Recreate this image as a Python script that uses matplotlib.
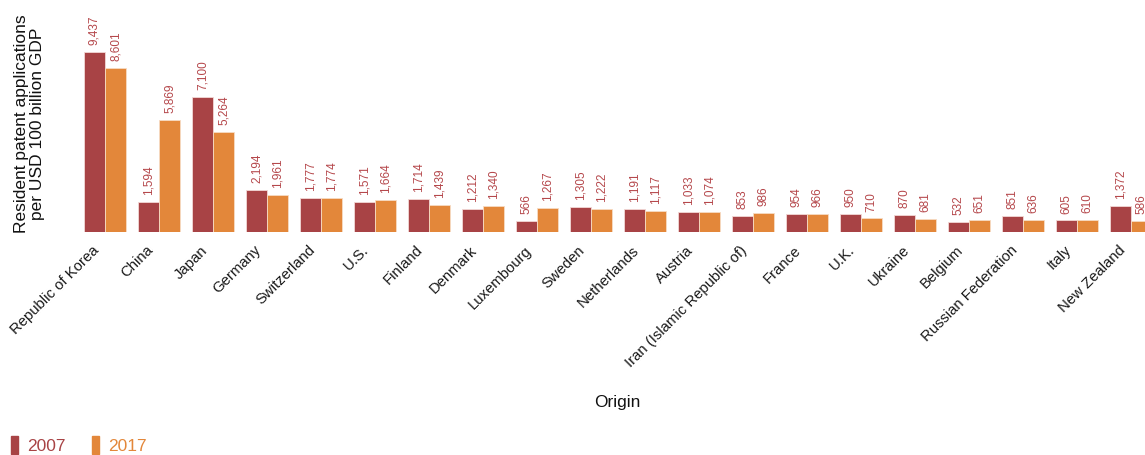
import numpy as np
import matplotlib.pyplot as plt
from matplotlib.patches import Patch
from matplotlib.transforms import ScaledTranslation

plt.rcParams['font.family'] = ['Liberation Sans', 'DejaVu Sans']

# --------------------- data ---------------------
countries = ["Republic of Korea", "China", "Japan", "Germany", "Switzerland", "U.S.",
             "Finland", "Denmark", "Luxembourg", "Sweden", "Netherlands", "Austria",
             "Iran (Islamic Republic of)", "France", "U.K.", "Ukraine", "Belgium",
             "Russian Federation", "Italy", "New Zealand"]
y2007 = [9437, 1594, 7100, 2194, 1777, 1571, 1714, 1212, 566, 1305,
         1191, 1033, 853, 954, 950, 870, 532, 851, 605, 1372]
y2017 = [8601, 5869, 5264, 1961, 1774, 1664, 1439, 1340, 1267, 1222,
         1117, 1074, 986, 966, 710, 681, 651, 636, 610, 586]
years = ["2007", "2017"]
# ------------------------------------------------

c07 = "#a84345"
c17 = "#e3873a"
lab_col = "#b5474b"

W, H = 1145, 455
fig = plt.figure(figsize=(W / 100, H / 100), dpi=100)
ax = fig.add_axes([78 / W, 1 - 232 / H, (W - 78) / W, 232 / H])

x = np.arange(len(countries))
bw = 0.39
b1 = ax.bar(x - bw / 2, y2007, bw, color=c07, edgecolor="#f3d9d6", linewidth=0.6)
b2 = ax.bar(x + bw / 2, y2017, bw, color=c17, edgecolor="#f7dcc4", linewidth=0.6)

for bars in (b1, b2):
    ax.bar_label(bars, labels=[f"{v:,}" for v in bars.datavalues], rotation=90,
                 padding=5, fontsize=8.5, color=lab_col)

ax.set_xlim(-0.5, 19.26)
ax.set_ylim(0, 12163)
ax.set_xticks(x)
ax.set_xticklabels(countries, rotation=45, ha="right", rotation_mode="anchor",
                   fontsize=10.7, color="#1a1a1a")
ax.tick_params(axis="x", length=0, pad=8)
shift = ScaledTranslation(-13 / 100, 0, fig.dpi_scale_trans)
for lbl in ax.get_xticklabels():
    lbl.set_transform(lbl.get_transform() + shift)
ax.set_yticks([])
for s in ax.spines.values():
    s.set_visible(False)

fig.text(29.5 / W, 1 - 124 / H, "Resident patent applications\nper USD 100 billion GDP",
         rotation=90, ha="center", va="center", multialignment="center",
         fontsize=12.5, color="#111111", linespacing=1.1)
fig.text(617 / W, 1 - 402 / H, "Origin", ha="center", va="center",
         fontsize=12.4, color="#111111")

handles = [Patch(color=c07), Patch(color=c17)]
fig.legend(handles, years, loc="center left", bbox_to_anchor=(-5 / W, 1 - 445 / H),
           ncol=2, frameon=False, handlelength=0.45, handleheight=1.3,
           handletextpad=0.5, columnspacing=1.5, fontsize=12.5,
           labelcolor=[c07, c17])

fig.savefig("out.png", dpi=100)
